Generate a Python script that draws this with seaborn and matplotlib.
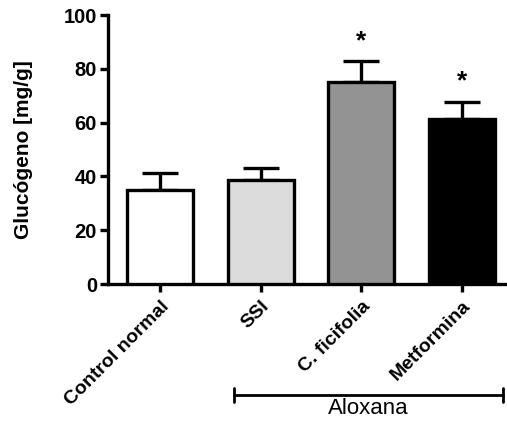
import matplotlib
matplotlib.use("Agg")
import matplotlib.pyplot as plt
import matplotlib.transforms as mtransforms
from matplotlib.lines import Line2D
import seaborn as sns
import pandas as pd

# Glycogen content per group (mean and upper SEM)
groups = ["Control normal", "SSI", "C. ficifolia", "Metformina"]
means = [35.0, 38.7, 75.2, 61.2]
sems = [6.3, 4.4, 7.7, 6.5]
significant = [False, False, True, True]
bar_colors = ["#ffffff", "#dcdcdc", "#939393", "#000000"]
yticks = [0, 20, 40, 60, 80, 100]

sns.set_theme(style="ticks")
plt.rcParams["font.family"] = ["Liberation Sans", "DejaVu Sans"]
plt.rcParams["axes.labelcolor"] = "black"
plt.rcParams["text.color"] = "black"

df = pd.DataFrame({"grupo": groups, "glucogeno": means})

fig = plt.figure(figsize=(5.07, 4.23), dpi=100)
ax = fig.add_axes([108 / 507, 1 - 284 / 423, 399 / 507, (284 - 15) / 423])

sns.barplot(data=df, x="grupo", y="glucogeno", hue="grupo", palette=bar_colors,
            order=groups, hue_order=groups, errorbar=None, width=0.66,
            edgecolor="black", linewidth=2.4, legend=False, ax=ax, zorder=3)

# upward-only error bars
ax.errorbar(range(len(groups)), means, yerr=[[0] * len(groups), sems],
            fmt="none", ecolor="black", elinewidth=2.4, capsize=13,
            capthick=2.4, zorder=2)

for i, (m, s, sig) in enumerate(zip(means, sems, significant)):
    if sig:
        ax.text(i, m + s + 7.5, "*", ha="center", va="center",
                fontsize=19, fontweight="bold", color="black")

ax.set_ylim(0, 100)
ax.set_xlim(-0.52, 3.45)
ax.set_yticks(yticks)
ax.set_yticklabels([str(v) for v in yticks], fontsize=14.5, fontweight="bold")
ax.set_xticks(range(len(groups)))
ax.set_xticklabels(groups, rotation=45, ha="right", rotation_mode="anchor",
                   fontsize=14, fontweight="bold")
ax.set_xlabel("")
ax.set_ylabel("Glucógeno [mg/g]", fontsize=15, fontweight="bold",
              color="black", labelpad=22)

sns.despine(ax=ax)
for side in ("left", "bottom"):
    ax.spines[side].set_linewidth(2.4)
    ax.spines[side].set_color("black")
ax.tick_params(axis="both", width=2.4, length=6, color="black", labelcolor="black", pad=2)
ax.tick_params(axis="x", pad=4)

# bracket marking the alloxan-treated groups
trans = mtransforms.blended_transform_factory(ax.transData, fig.transFigure)
y_br = 1 - 395 / 423
cap = 7 / 423
x0, x1 = 0.735, 3.41
for line in (
    Line2D([x0, x1], [y_br, y_br]),
    Line2D([x0, x0], [y_br - cap, y_br + cap]),
    Line2D([x1, x1], [y_br - cap, y_br + cap]),
):
    line.set_transform(trans)
    line.set_color("black")
    line.set_linewidth(2.0)
    line.set_clip_on(False)
    fig.add_artist(line)
fig.text((x0 + x1) / 2, y_br - 0.008, "Aloxana", transform=trans,
         ha="center", va="top", fontsize=16, color="black")

fig.savefig("out.png", dpi=100)
